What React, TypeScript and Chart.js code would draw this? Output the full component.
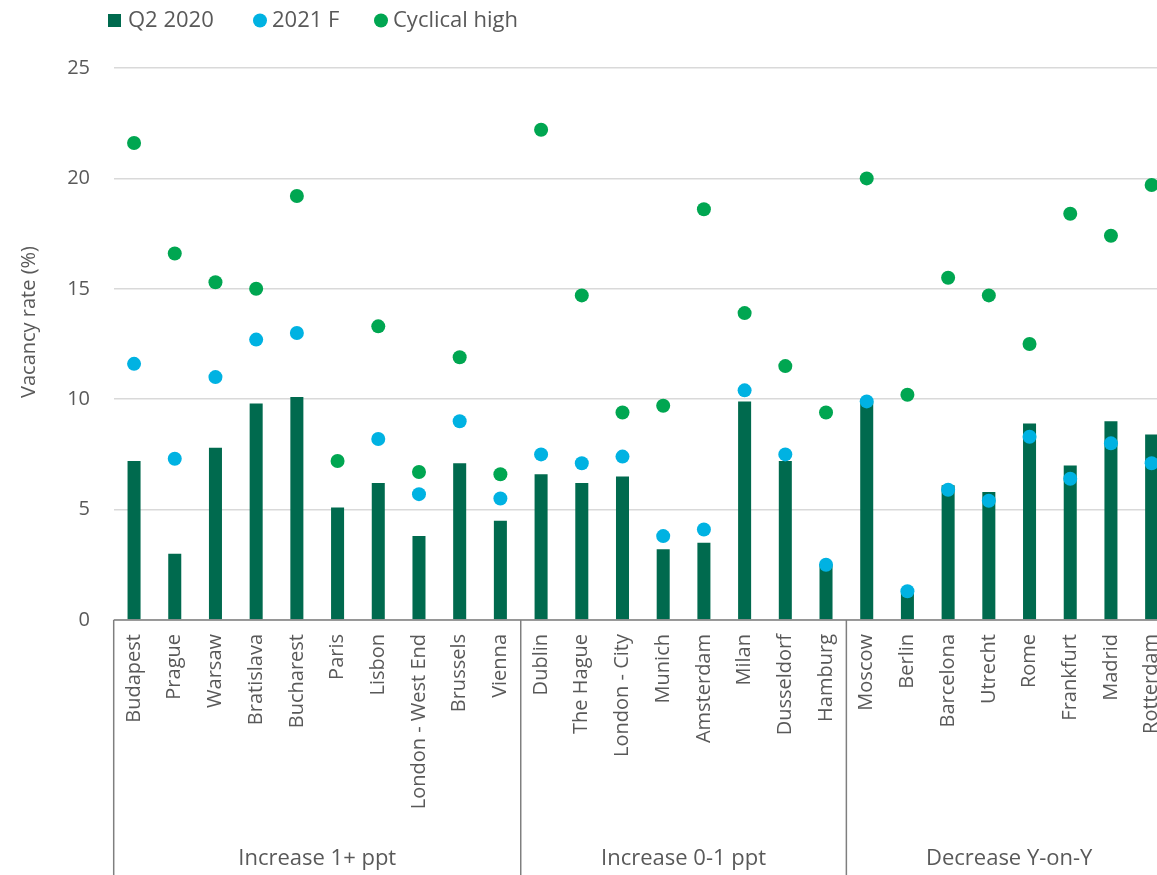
import React, { useEffect, useRef } from "react";
import { Chart, registerables } from "chart.js";

Chart.register(...registerables);

const categories = [
  "Budapest", "Prague", "Warsaw", "Bratislava", "Bucharest", "Paris", "Lisbon",
  "London - West End", "Brussels", "Vienna",
  "Dublin", "The Hague", "London - City", "Munich", "Amsterdam", "Milan", "Dusseldorf", "Hamburg",
  "Moscow", "Berlin", "Barcelona", "Utrecht", "Rome", "Frankfurt", "Madrid", "Rotterdam",
];

const groupLabels = ["Increase 1+ ppt", "Increase 0-1 ppt", "Decrease Y-on-Y"];
const groupSizes = [10, 8, 8];

const q2_2020 = [7.2, 3.0, 7.8, 9.8, 10.1, 5.1, 6.2, 3.8, 7.1, 4.5, 6.6, 6.2, 6.5, 3.2, 3.5, 9.9, 7.2, 2.5, 9.9, 1.3, 6.1, 5.8, 8.9, 7.0, 9.0, 8.4];
const forecast2021 = [11.6, 7.3, 11.0, 12.7, 13.0, null, 8.2, 5.7, 9.0, 5.5, 7.5, 7.1, 7.4, 3.8, 4.1, 10.4, 7.5, 2.5, 9.9, 1.3, 5.9, 5.4, 8.3, 6.4, 8.0, 7.1];
const cyclicalHigh = [21.6, 16.6, 15.3, 15.0, 19.2, 7.2, 13.3, 6.7, 11.9, 6.6, 22.2, 14.7, 9.4, 9.7, 18.6, 13.9, 11.5, 9.4, 20.0, 10.2, 15.5, 14.7, 12.5, 18.4, 17.4, 19.7];

const seriesNames = ["Q2 2020", "2021 F", "Cyclical high"];
const yTicks = [0, 5, 10, 15, 20, 25];

const BAR = "#006A4E";
const BLUE = "#00B2E2";
const GREEN = "#00A651";
const TEXT = "#595959";
const AXIS = "#7f7f7f";
const FONT = "'Open Sans', 'DejaVu Sans', sans-serif";

const extrasPlugin = {
  id: "extras",
  afterDraw(chart: any) {
    const ctx = chart.ctx;
    const x = chart.scales.x;
    const area = chart.chartArea;
    const H = chart.height;
    ctx.save();
    // legend
    ctx.font = `22px ${FONT}`;
    ctx.textBaseline = "alphabetic";
    ctx.textAlign = "left";
    ctx.fillStyle = BAR;
    ctx.fillRect(108, 14, 13, 13);
    ctx.fillStyle = TEXT;
    ctx.fillText(seriesNames[0], 128, 27);
    ctx.fillStyle = BLUE;
    ctx.beginPath();
    ctx.arc(260, 20.5, 7, 0, Math.PI * 2);
    ctx.fill();
    ctx.fillStyle = TEXT;
    ctx.fillText(seriesNames[1], 272, 27);
    ctx.fillStyle = GREEN;
    ctx.beginPath();
    ctx.arc(381, 20.5, 7, 0, Math.PI * 2);
    ctx.fill();
    ctx.fillStyle = TEXT;
    ctx.fillText(seriesNames[2], 393, 27);

    // y axis title
    ctx.save();
    ctx.translate(29, 322);
    ctx.rotate(-Math.PI / 2);
    ctx.font = `20px ${FONT}`;
    ctx.textAlign = "center";
    ctx.textBaseline = "middle";
    ctx.fillText("Vacancy rate (%)", 0, 0);
    ctx.restore();

    // axis line
    ctx.strokeStyle = AXIS;
    ctx.lineWidth = 1.5;
    ctx.beginPath();
    ctx.moveTo(area.left, area.bottom);
    ctx.lineTo(area.right, area.bottom);
    ctx.stroke();

    // group separators and labels
    const step = (area.right - area.left) / categories.length;
    let start = 0;
    ctx.font = `22px ${FONT}`;
    ctx.textAlign = "center";
    ctx.textBaseline = "alphabetic";
    const bounds: number[] = [area.left];
    groupSizes.forEach((size, gi) => {
      const first = x.getPixelForValue(start) - step / 2;
      const last = x.getPixelForValue(start + size - 1) + step / 2;
      bounds.push(last);
      ctx.fillStyle = TEXT;
      ctx.fillText(groupLabels[gi], (first + last) / 2, 865);
      start += size;
    });
    bounds.forEach((b) => {
      ctx.beginPath();
      ctx.moveTo(b, area.bottom);
      ctx.lineTo(b, H);
      ctx.stroke();
    });
    ctx.restore();
  },
};

export default function App() {
  const ref = useRef<HTMLCanvasElement | null>(null);
  useEffect(() => {
    if (!ref.current) return;
    const chart = new Chart(ref.current, {
      type: "bar",
      data: {
        labels: categories,
        datasets: [
          {
            type: "bar",
            label: seriesNames[0],
            data: q2_2020,
            backgroundColor: BAR,
            categoryPercentage: 1,
            barPercentage: 0.32,
            order: 3,
          } as any,
          {
            type: "line",
            label: seriesNames[1],
            data: forecast2021,
            showLine: false,
            pointRadius: 7,
            pointHoverRadius: 7,
            pointBorderWidth: 0,
            pointBackgroundColor: BLUE,
            borderColor: BLUE,
            backgroundColor: BLUE,
            order: 2,
          } as any,
          {
            type: "line",
            label: seriesNames[2],
            data: cyclicalHigh,
            showLine: false,
            pointRadius: 7,
            pointHoverRadius: 7,
            pointBorderWidth: 0,
            pointBackgroundColor: GREEN,
            borderColor: GREEN,
            backgroundColor: GREEN,
            order: 1,
          } as any,
        ],
      },
      options: {
        responsive: false,
        animation: false,
        layout: { padding: { top: 68, left: 0, right: 0, bottom: 0 } },
        plugins: { legend: { display: false }, tooltip: { enabled: false } },
        scales: {
          x: {
            offset: true,
            grid: { display: false, drawTicks: false },
            border: { display: false },
            ticks: {
              autoSkip: false,
              minRotation: 90,
              maxRotation: 90,
              padding: 14,
              color: TEXT,
              font: { family: FONT, size: 20 },
            },
            afterFit: (s: any) => {
              s.height = 255;
              s.paddingLeft = 0;
              s.paddingRight = 0;
            },
          },
          y: {
            min: 0,
            max: 25,
            afterBuildTicks: (s: any) => {
              s.ticks = yTicks.map((v) => ({ value: v }));
            },
            grid: { color: "#d9d9d9", lineWidth: 1.5, drawTicks: false },
            border: { display: false },
            ticks: {
              padding: 23.7,
              color: TEXT,
              font: { family: FONT, size: 20 },
            },
            afterFit: (s: any) => {
              s.width = 113.7;
              s.paddingTop = 0;
              s.paddingBottom = 0;
            },
          },
        },
      },
      plugins: [extrasPlugin],
    });
    return () => chart.destroy();
  }, []);
  return (
    <div style={{ position: "fixed", left: 0, top: 0, width: 1157, height: 875, overflow: "hidden", background: "#fff" }}>
      <canvas ref={ref} width={1179} height={875} style={{ display: "block", width: 1179, height: 875 }} />
    </div>
  );
}
